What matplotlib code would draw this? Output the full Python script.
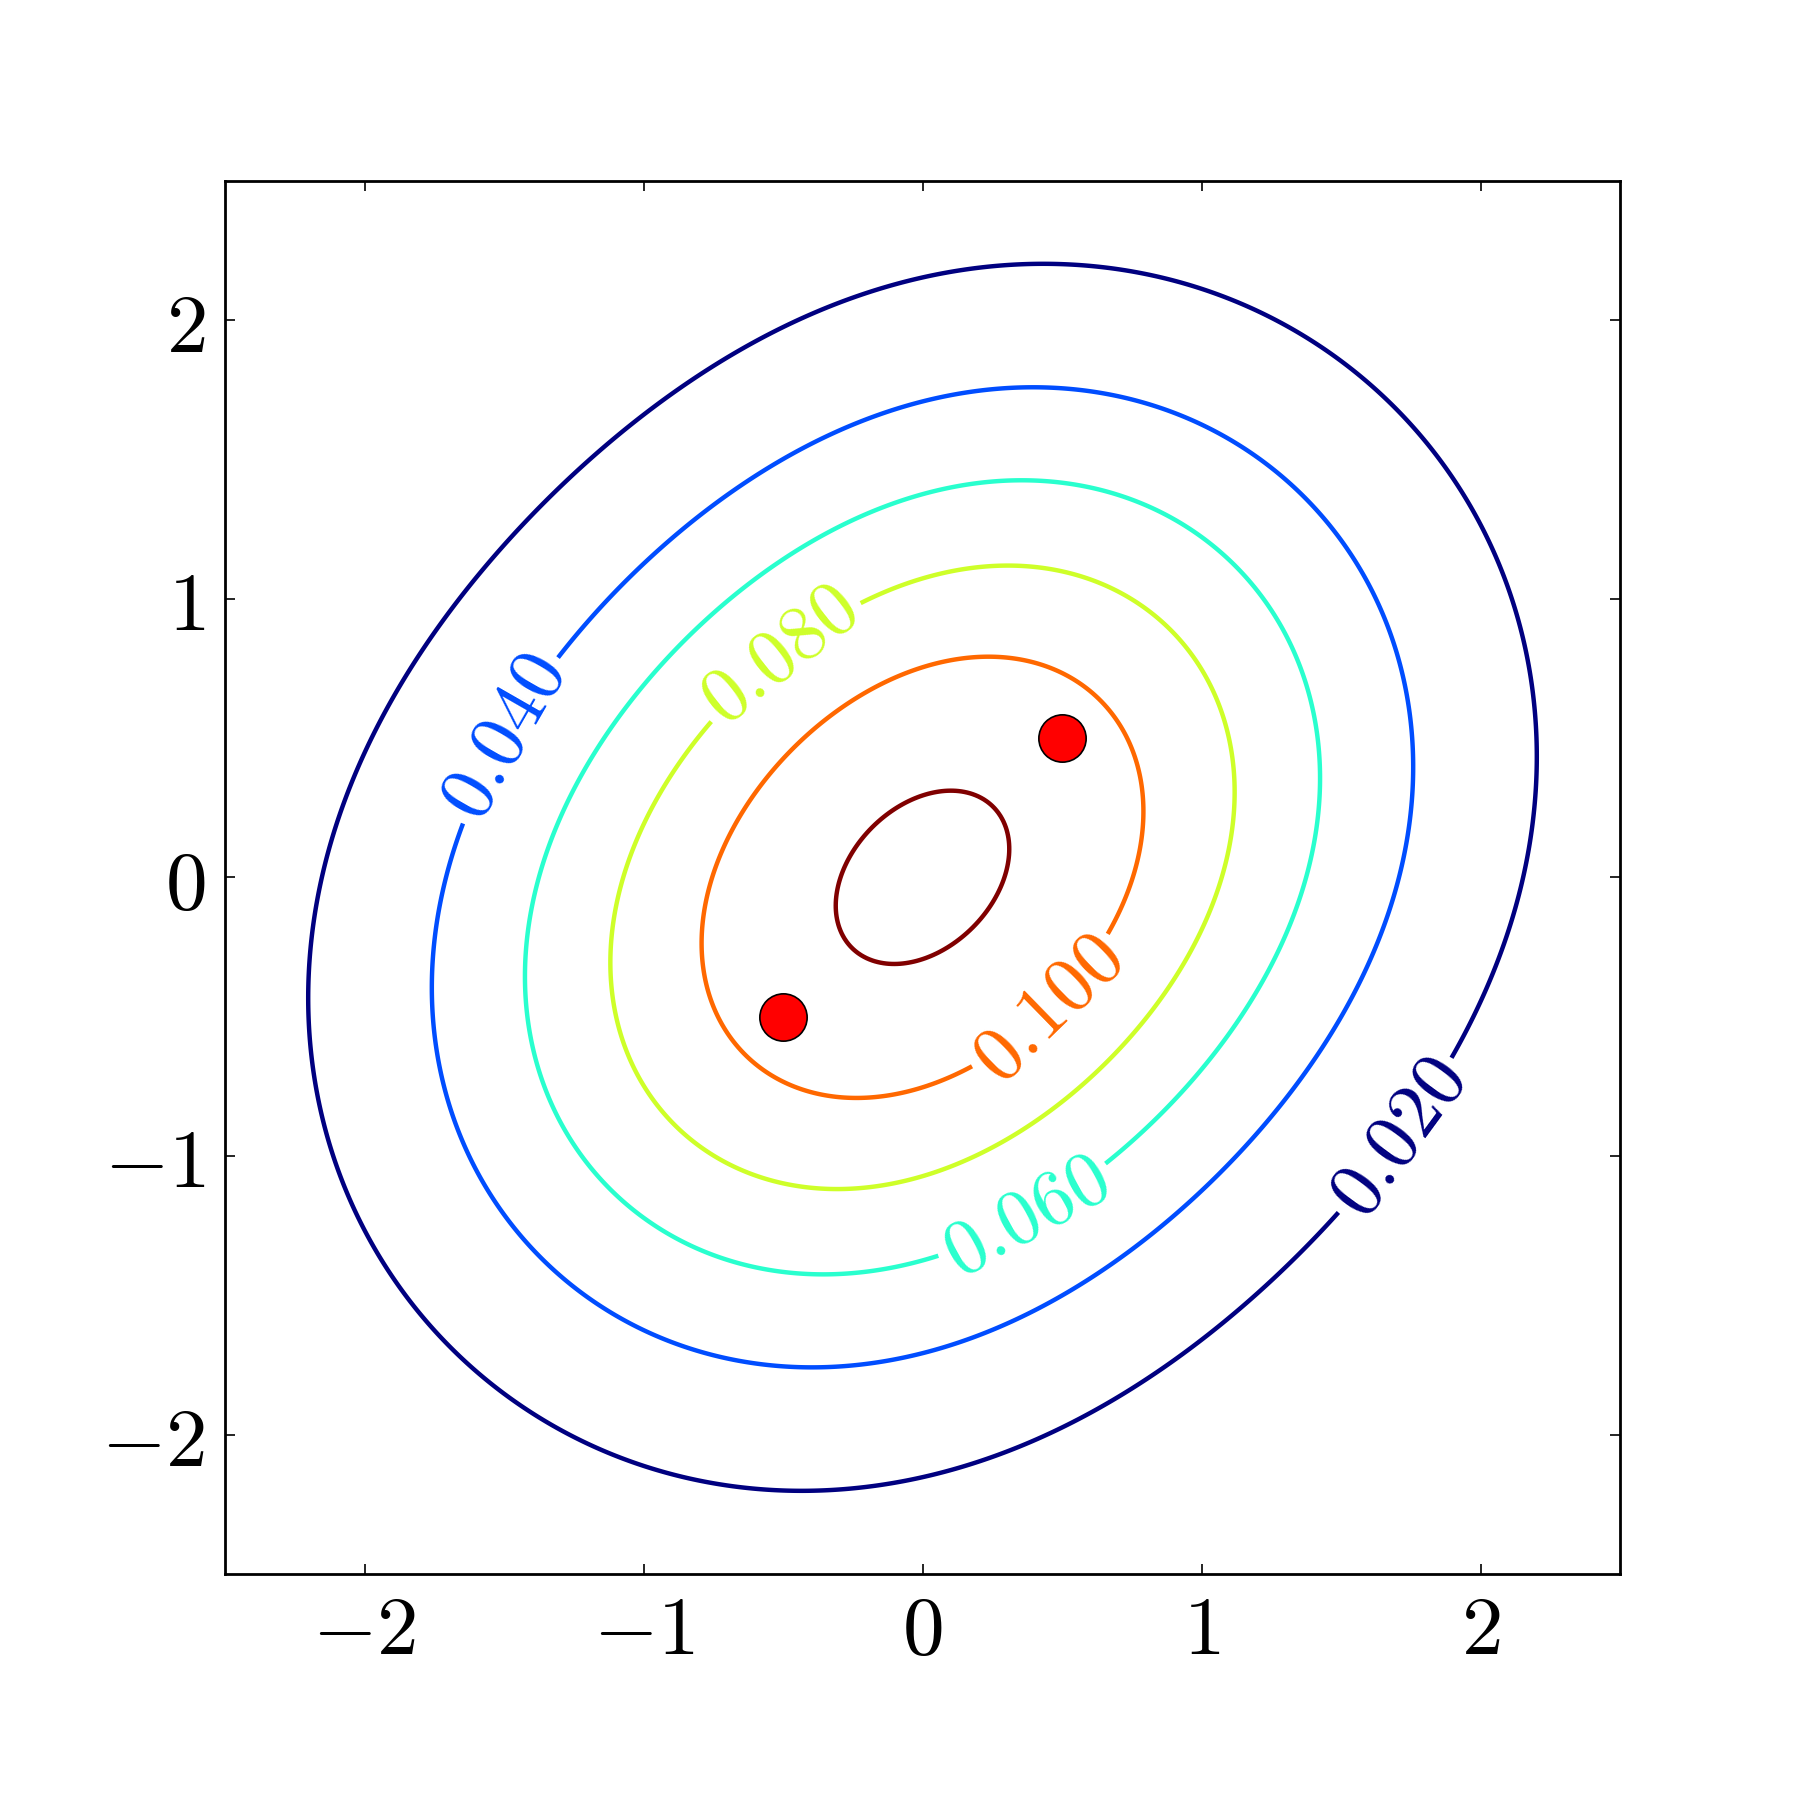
import numpy as np
import matplotlib
matplotlib.use("Agg")
import matplotlib.pyplot as plt
from matplotlib.ticker import FuncFormatter

plt.rcParams['mathtext.fontset'] = 'cm'
plt.rcParams['font.family'] = ['DejaVu Serif']

# Mixture components (means at the red points) and shared std
means_x = [-0.5, 0.5]
means_y = [-0.5, 0.5]
weights = [0.5, 0.5]
sigma = 1.0
levels = [0.02, 0.04, 0.06, 0.08, 0.10, 0.12]
labeled_levels = [0.02, 0.04, 0.06, 0.08, 0.10]
label_pos = [(1.70, -0.93), (-1.51, 0.51), (0.36, -1.20), (-0.52, 0.81), (0.42, -0.44)]
ticks = [-2, -1, 0, 1, 2]

grid = np.linspace(-2.5, 2.5, 501)
X, Y = np.meshgrid(grid, grid)
Z = np.zeros_like(X)
for mx, my, w in zip(means_x, means_y, weights):
    Z += w * np.exp(-((X - mx) ** 2 + (Y - my) ** 2) / (2 * sigma ** 2)) / (2 * np.pi * sigma ** 2)

fig = plt.figure(figsize=(9, 9), dpi=200)
ax = fig.add_axes([0.125, 0.1256, 0.775, 0.774])

cs = ax.contour(X, Y, Z, levels=levels, cmap='jet', linewidths=1.6)
ax.clabel(cs, levels=labeled_levels, inline=True, fontsize=28, inline_spacing=8,
          fmt=lambda v: r'$%.3f$' % v, manual=label_pos)

ax.scatter(means_x, means_y, s=290, c='red', edgecolors='black', linewidths=0.6, zorder=5)

ax.set_xlim(-2.5, 2.5)
ax.set_ylim(-2.5, 2.5)
ax.set_xticks(ticks)
ax.set_yticks(ticks)
fmt = FuncFormatter(lambda v, p: r'$%d$' % v)
ax.xaxis.set_major_formatter(fmt)
ax.yaxis.set_major_formatter(fmt)
ax.tick_params(direction='in', top=True, right=True, length=3.5, width=0.6, labelsize=30)
ax.tick_params(axis='x', pad=6)
ax.tick_params(axis='y', pad=7)
for sp in ax.spines.values():
    sp.set_linewidth(1.0)

fig.savefig('out.png', dpi=200)
